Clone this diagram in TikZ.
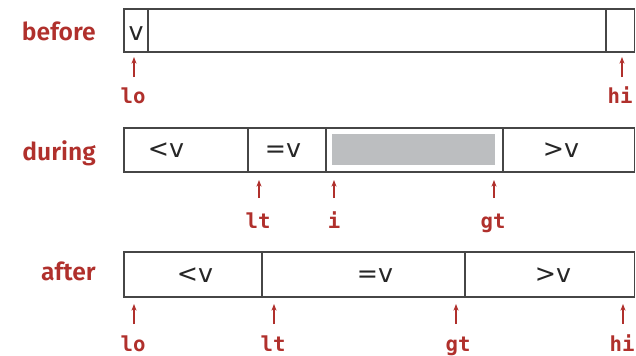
\documentclass[tikz,border=0pt]{standalone}
\usepackage{fontspec}
\setmainfont{DejaVu Sans}
\newfontfamily\rowfont{Fira Sans SemiBold}
\newfontfamily\ptrfont{DejaVu Sans Mono}
\newfontfamily\cellfont{DejaVu Sans}
\usetikzlibrary{arrows.meta}
\definecolor{bookred}{RGB}{176,48,44}
\definecolor{boxline}{RGB}{70,70,70}
\definecolor{fillgray}{RGB}{188,190,192}
\tikzset{
  rowlabel/.style={anchor=base east, inner sep=0pt, text=bookred, font=\rowfont\fontsize{18.5}{20}\selectfont},
  celltext/.style={anchor=base, inner sep=0pt, text=black!85, font=\cellfont\fontsize{19}{21}\selectfont},
  ptrlabel/.style={anchor=base, inner sep=0pt, text=bookred, font=\ptrfont\bfseries\fontsize{15.5}{18}\selectfont},
  ptr/.style={draw=bookred, line width=0.8pt, -{Stealth[length=5pt,width=3.8pt]}},
  frame/.style={draw=boxline, line width=1.1pt},
  divider/.style={draw=boxline, line width=0.9pt}
}
\begin{document}
\begin{tikzpicture}[x=0.75pt,y=-0.75pt]
\useasboundingbox (0,0) rectangle (636,355);

% ---------- before ----------
\node[rowlabel] (lbefore) at (96,40) {before};
\draw[frame] (124,9) rectangle (634.5,52);
\draw[divider] (148,9) -- (148,52);
\draw[divider] (606,9) -- (606,52);
\node[celltext] (vb) at (136,40) {v};
\node[ptrlabel] (lo1) at (133,103) {lo};
\node[ptrlabel] (hi1) at (620,103) {hi};
\coordinate (lo1t) at (134,57); \coordinate (lo1s) at (134,77);
\coordinate (hi1t) at (622,57); \coordinate (hi1s) at (622,77);
\draw[ptr] (lo1s) -- (lo1t);
\draw[ptr] (hi1s) -- (hi1t);

% ---------- during ----------
\node[rowlabel] (lduring) at (96,160) {during};
\draw[frame] (124,128) rectangle (634.5,172);
\draw[divider] (248,128) -- (248,172);
\draw[divider] (326,128) -- (326,172);
\draw[divider] (503,128) -- (503,172);
\fill[fillgray] (332,134) rectangle (495,165);
\node[celltext] (lt2c) at (166,157) {<v};
\node[celltext] (eq2c) at (283,157) {=v};
\node[celltext] (gt2c) at (561,157) {>v};
\node[ptrlabel] (lt2) at (258,228) {lt};
\node[ptrlabel] (i2) at (334,228) {i};
\node[ptrlabel] (gt2) at (493,228) {gt};
\coordinate (lt2t) at (259,180); \coordinate (lt2s) at (259,198);
\coordinate (i2t) at (334,180); \coordinate (i2s) at (334,198);
\coordinate (gt2t) at (494,180); \coordinate (gt2s) at (494,198);
\draw[ptr] (lt2s) -- (lt2t);
\draw[ptr] (i2s) -- (i2t);
\draw[ptr] (gt2s) -- (gt2t);

% ---------- after ----------
\node[rowlabel] (lafter) at (96,280) {after};
\draw[frame] (124,252) rectangle (634.5,297);
\draw[divider] (262,252) -- (262,297);
\draw[divider] (465,252) -- (465,297);
\node[celltext] (lt3c) at (195,282) {<v};
\node[celltext] (eq3c) at (375,282) {=v};
\node[celltext] (gt3c) at (553,282) {>v};
\node[ptrlabel] (lo3) at (133,351) {lo};
\node[ptrlabel] (lt3) at (273,351) {lt};
\node[ptrlabel] (gt3) at (458,351) {gt};
\node[ptrlabel] (hi3) at (622,351) {hi};
\coordinate (lo3t) at (134,304); \coordinate (lo3s) at (134,324);
\coordinate (lt3t) at (274,304); \coordinate (lt3s) at (274,324);
\coordinate (gt3t) at (456,304); \coordinate (gt3s) at (456,324);
\coordinate (hi3t) at (623,304); \coordinate (hi3s) at (623,324);
\draw[ptr] (lo3s) -- (lo3t);
\draw[ptr] (lt3s) -- (lt3t);
\draw[ptr] (gt3s) -- (gt3t);
\draw[ptr] (hi3s) -- (hi3t);
\end{tikzpicture}
\end{document}
